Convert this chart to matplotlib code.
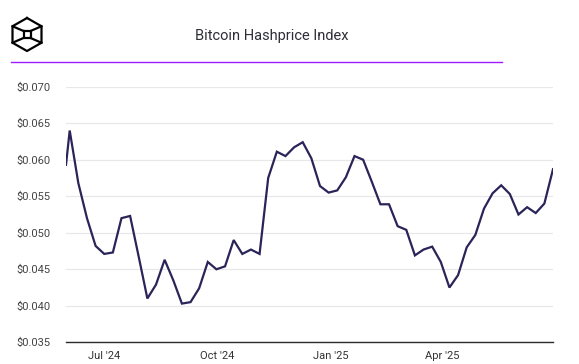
import numpy as np
import matplotlib
matplotlib.use("Agg")
import matplotlib.pyplot as plt
import matplotlib.dates as mdates
from matplotlib.lines import Line2D

plt.rcParams['font.family'] = ['Roboto', 'DejaVu Sans']

# weekly hashprice readings (USD per TH/s per day)
first_date = np.datetime64('2024-05-31')
weekly_start = np.datetime64('2024-06-03')
hashprice = [
    0.0593, 0.0640, 0.0568, 0.0520, 0.0482, 0.0471, 0.0473, 0.0520, 0.0523,
    0.0467, 0.0410, 0.0429, 0.0463, 0.0435, 0.0403, 0.0405, 0.0424, 0.0460,
    0.0450, 0.0454, 0.0490, 0.0471, 0.0477, 0.0471, 0.0575, 0.0611, 0.0605,
    0.0617, 0.0624, 0.0602, 0.0564, 0.0555, 0.0558, 0.0576, 0.0605, 0.0600,
    0.0570, 0.0539, 0.0539, 0.0509, 0.0504, 0.0469, 0.0477, 0.0481, 0.0460,
    0.0425, 0.0442, 0.0480, 0.0497, 0.0533, 0.0554, 0.0565, 0.0553, 0.0525,
    0.0535, 0.0527, 0.0540, 0.0587,
]
dates = np.concatenate([[first_date],
                        weekly_start + np.arange(len(hashprice) - 1) * np.timedelta64(7, 'D')])

yticks = [0.035, 0.040, 0.045, 0.050, 0.055, 0.060, 0.065, 0.070]
xticks = np.array(['2024-07-01', '2024-10-01', '2025-01-01', '2025-04-01'], dtype='datetime64[D]')

W, H = 579, 364
fig = plt.figure(figsize=(W / 100, H / 100), dpi=100)
ax = fig.add_axes([66 / W, 1 - 342.3 / H, (553 - 66) / W, (342.3 - 86.7) / H])

ax.plot(dates, hashprice, color='#2a2458', lw=1.6, solid_joinstyle='miter')

ax.set_xlim(dates[0], dates[-1])
ax.set_ylim(0.035, 0.070)
ax.set_yticks(yticks)
ax.set_yticklabels([f'${v:.3f}' for v in yticks])
ax.set_xticks(xticks)
ax.xaxis.set_major_formatter(mdates.DateFormatter("%b '%y"))

ax.grid(axis='y', color='#e8e8e8', lw=0.9)
ax.set_axisbelow(True)
for s in ['top', 'right', 'left']:
    ax.spines[s].set_visible(False)
ax.spines['bottom'].set_color('#2b2b2b')
ax.spines['bottom'].set_linewidth(1.0)
ax.tick_params(axis='y', length=0, pad=11, labelsize=8, labelcolor='#444444')
ax.tick_params(axis='x', length=0, pad=6, labelsize=8, labelcolor='#333333')

# header
fig.text(271.5 / W, 1 - 36 / H, 'Bitcoin Hashprice Index', ha='center', va='center',
         fontsize=10.5, color='#2e2e38')
fig.add_artist(Line2D([11 / W, 502 / W], [1 - 62 / H, 1 - 62 / H], color='#9d1cff', lw=1.0))

# logo: hexagonal cube outline
cx, cy, rx, ry = 27, 34.5, 14.5, 16.5
hx = [cx, cx + rx, cx + rx, cx, cx - rx, cx - rx, cx]
hy = [cy - ry, cy - ry / 2, cy + ry / 2, cy + ry, cy + ry / 2, cy - ry / 2, cy - ry]
fig.add_artist(Line2D([x / W for x in hx], [1 - y / H for y in hy], color='black', lw=1.6))
s = 3.5
sx = [cx - s, cx + s, cx + s, cx - s, cx - s]
sy = [cy - s, cy - s, cy + s, cy + s, cy - s]
fig.add_artist(Line2D([x / W for x in sx], [1 - y / H for y in sy], color='black', lw=1.6))
for (ox, oy), (ix, iy) in [((cx - rx, cy - ry / 2), (cx - s, cy - s)),
                           ((cx + rx, cy - ry / 2), (cx + s, cy - s)),
                           ((cx - rx, cy + ry / 2), (cx - s, cy + s)),
                           ((cx + rx, cy + ry / 2), (cx + s, cy + s))]:
    fig.add_artist(Line2D([ox / W, ix / W], [1 - oy / H, 1 - iy / H], color='black', lw=1.6))

fig.savefig('out.png', dpi=100)
